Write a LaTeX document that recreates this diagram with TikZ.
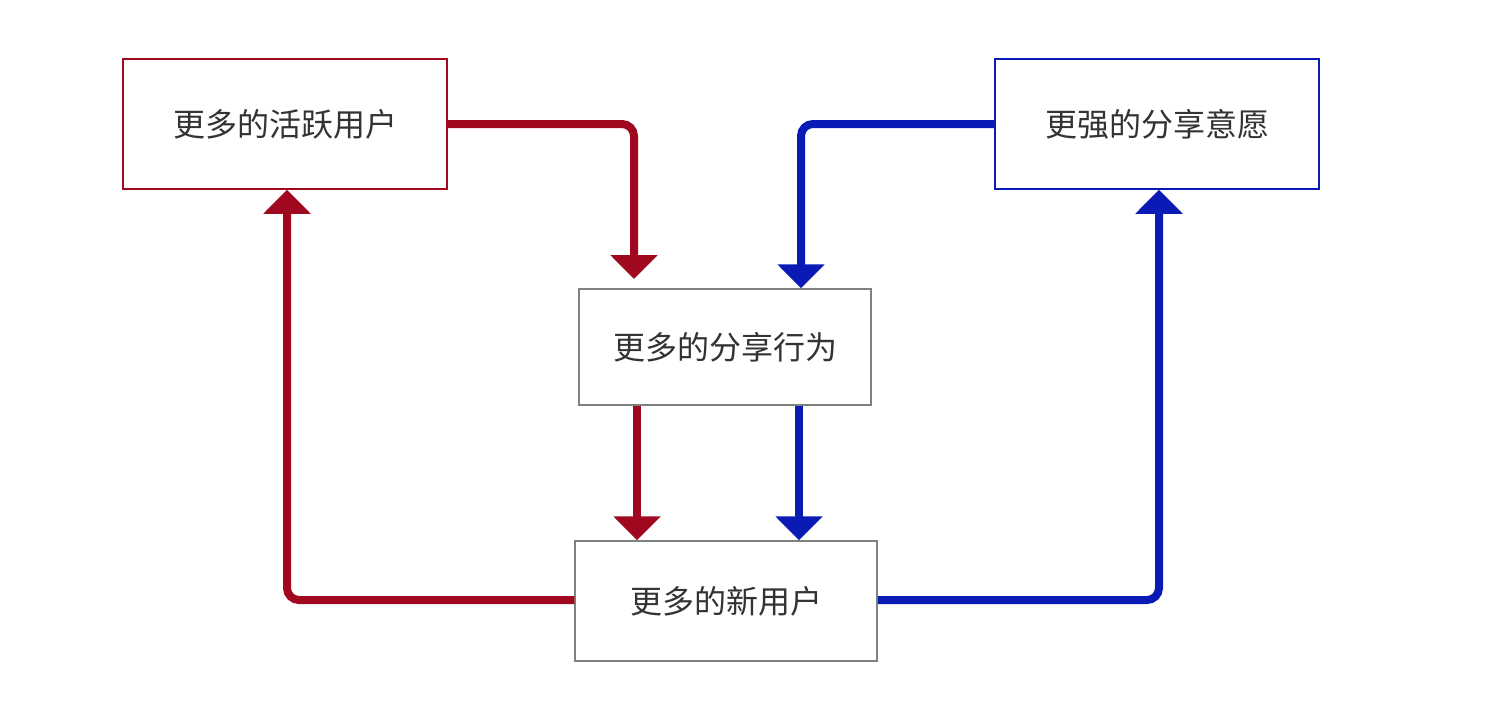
\documentclass[tikz,border=0pt]{standalone}
\usepackage{fontspec}
\newfontfamily\cjk{Noto Sans CJK SC}
\usetikzlibrary{arrows.meta}
\definecolor{rd}{HTML}{A00820}
\definecolor{bl}{HTML}{0A1AB4}
\definecolor{tx}{HTML}{333333}
\begin{document}
\begin{tikzpicture}[x=1pt,y=-1pt,
 box/.style={draw=#1,line width=1.5pt,fill=white,inner sep=0pt,font=\cjk\fontsize{32}{36}\selectfont,text=tx},
 arr/.style={draw=#1,line width=8pt,rounded corners=12pt,-{Triangle[width=46pt,length=24pt]}}]
\useasboundingbox (0,0) rectangle (1492,720);
\node[box=rd,minimum width=324pt,minimum height=130pt] (A) at (285,124) {更多的活跃用户};
\node[box=bl,minimum width=324pt,minimum height=130pt] (B) at (1157,124) {更强的分享意愿};
\node[box=gray,minimum width=292pt,minimum height=116pt] (C) at (725,347) {更多的分享行为};
\node[box=gray,minimum width=302pt,minimum height=120pt] (D) at (726,601) {更多的新用户};
\coordinate (c1) at (634,279);
\draw[arr=rd] (A.east) -| (c1);
\draw[arr=bl] (B.west) -| (C.north -| 801,0);
\draw[arr=rd] (C.south -| 637,0) -- (D.north -| 637,0);
\draw[arr=bl] (C.south -| 799,0) -- (D.north -| 799,0);
\draw[arr=rd] ([yshift=1pt]D.west) -| (A.south -| 287,0);
\draw[arr=bl] ([yshift=1pt]D.east) -| (B.south -| 1159,0);
\end{tikzpicture}
\end{document}
